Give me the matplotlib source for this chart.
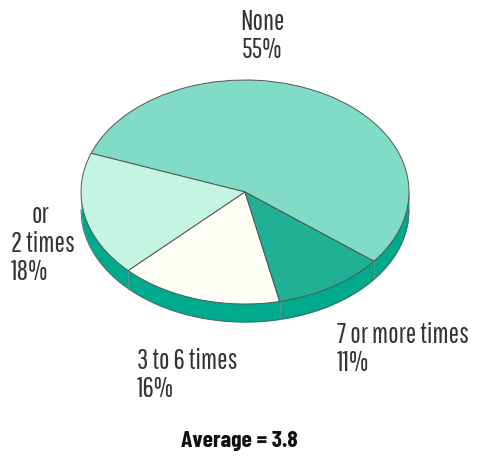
import numpy as np
import matplotlib
matplotlib.use("Agg")
import matplotlib.pyplot as plt

categories = ["None", "1 or 2 times", "3 to 6 times", "7 or more times"]
values = [55, 18, 16, 11]
colors = ["#80dcc4", "#c4f4e2", "#fffff6", "#1fb096"]
wall_color = "#00aa8c"
average = 3.8

W, H = 481, 457
fig = plt.figure(figsize=(W / 100, H / 100), dpi=100)
fig.patch.set_facecolor("white")

# pie geometry in pixels
cx, cy, rx, ry = 245, 192, 164, 112
depth = 18 / ry
xl = (-1.25, 1.25)
yl = (-1.7, 1.25)
ax_w = (xl[1] - xl[0]) * rx
ax_h = (yl[1] - yl[0]) * ry
left = cx - (0 - xl[0]) * rx
top = cy - (yl[1] - 0) * ry
ax = fig.add_axes([left / W, (H - top - ax_h) / H, ax_w / W, ax_h / H])

startangle = -38.2
wedges, _ = ax.pie(values, colors=colors, startangle=startangle, counterclock=True,
                   wedgeprops=dict(edgecolor="#555555", linewidth=0.7, zorder=3))
ax.set_aspect("auto")
ax.set_xlim(*xl)
ax.set_ylim(*yl)
ax.axis("off")

# side wall of the disc
x = np.linspace(-1, 1, 400)
lower = -np.sqrt(np.clip(1 - x ** 2, 0, None))
ax.fill_between(x, lower - depth, 0, color=wall_color, zorder=1, linewidth=0)
ax.plot(x, lower - depth, color="#4a6a64", linewidth=0.7, zorder=2)

# faint seams on the wall at wedge boundaries in the front
angs = startangle + np.cumsum([0] + values) * 3.6
for a in angs:
    s = np.sin(np.radians(a))
    if s < 0:
        c = np.cos(np.radians(a))
        ax.plot([c, c], [s, s - depth], color="#5a9a8c", linewidth=0.6, zorder=2)

fam = ["Pathway Gothic One", "DejaVu Sans"]
tc = "#333333"
fs = 20
def put(px, py, s, ha="left", family=fam, weight="normal", size=fs, color=tc):
    fig.text(px / W, 1 - py / H, s, ha=ha, va="center", fontsize=size,
             family=family, color=color, weight=weight, linespacing=1.05)

put(262, 36, "None\n55%", ha="center")
put(32, 215, "or")
put(11, 258, "2 times\n18%")
put(337, 349, "7 or more times\n11%")
put(137, 375, "3 to 6 times\n16%")
put(239, 441, f"Average = {average}", ha="center", family=["Barlow Condensed", "DejaVu Sans"],
    weight="bold", size=17, color="#111111")

fig.savefig("out.png", dpi=100, facecolor="white")
